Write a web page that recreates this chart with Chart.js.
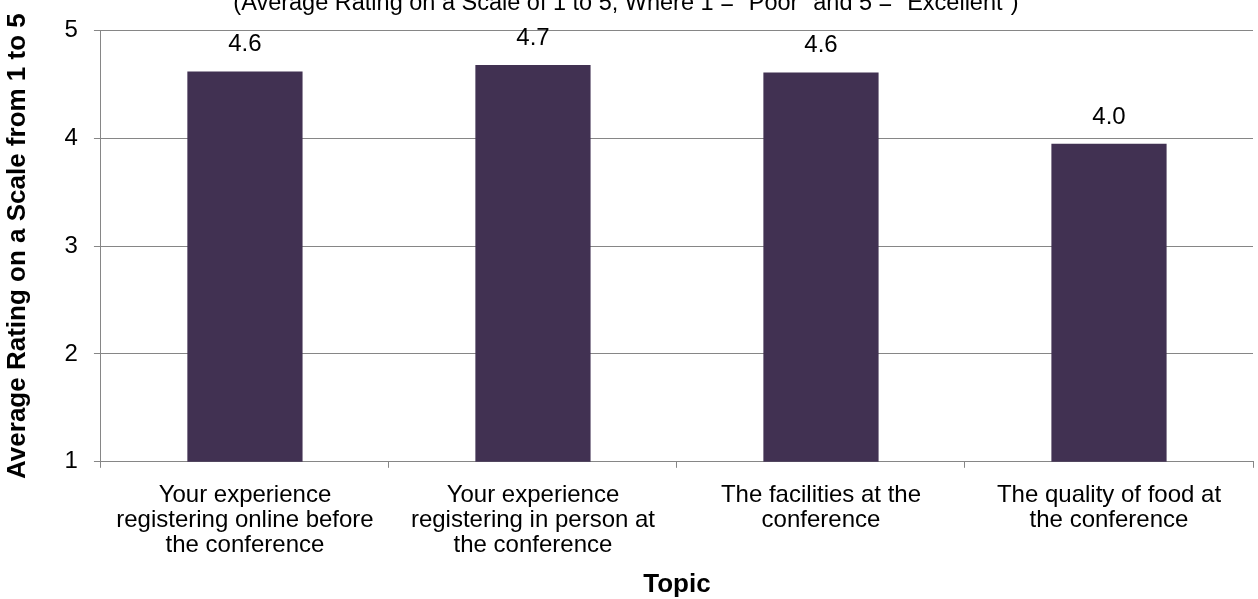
<!DOCTYPE html>
<html>
<head>
<meta charset="utf-8">
<script src="https://cdn.jsdelivr.net/npm/chart.js@4"></script>
<style>
  html, body { margin: 0; padding: 0; background: #fff; }
  #wrap { width: 1258px; height: 599px; }
</style>
</head>
<body>
<div id="wrap"><canvas id="ratingChart"></canvas></div>
<script>
// Chart data
const subtitleText = '(Average Rating on a Scale of 1 to 5, Where 1 = "Poor" and 5 = "Excellent")';
const topicLabels = [
    ['Your experience', 'registering online before', 'the conference'],
    ['Your experience', 'registering in person at', 'the conference'],
    ['The facilities at the', 'conference'],
    ['The quality of food at', 'the conference']
];
const avgRatings = [4.62, 4.68, 4.61, 3.95];
const yTicks = [1, 2, 3, 4, 5];

const FONT = "'Liberation Sans', Arial, sans-serif";
const GRID = '#868686';

// subtitle sits at the very top, half cut off like the original
const subtitlePlugin = {
    id: 'subtitleTop',
    afterDraw(chart) {
        const ctx = chart.ctx;
        ctx.save();
        ctx.font = '23.5px ' + FONT;
        ctx.fillStyle = '#000';
        ctx.textAlign = 'center';
        ctx.textBaseline = 'alphabetic';
        ctx.fillText(subtitleText, 626, 10);
        ctx.restore();
    }
};

// value labels above each bar
const valueLabels = {
    id: 'valueLabels',
    afterDatasetsDraw(chart) {
        const ctx = chart.ctx;
        const meta = chart.getDatasetMeta(0);
        ctx.save();
        ctx.font = '24px ' + FONT;
        ctx.fillStyle = '#000';
        ctx.textAlign = 'center';
        ctx.textBaseline = 'alphabetic';
        meta.data.forEach((bar, i) => {
            ctx.fillText(avgRatings[i].toFixed(1), bar.x, bar.y - 20);
        });
        ctx.restore();
    }
};

new Chart(document.getElementById('ratingChart').getContext('2d'), {
    type: 'bar',
    data: {
        labels: topicLabels,
        datasets: [{
            data: avgRatings,
            backgroundColor: '#413152',
            borderWidth: 0,
            categoryPercentage: 0.8,
            barPercentage: 0.5
        }]
    },
    options: {
        responsive: true,
        maintainAspectRatio: false,
        animation: false,
        layout: { padding: { top: 21, right: 5, left: 4, bottom: 0 } },
        scales: {
            x: {
                grid: {
                    offset: true,
                    drawOnChartArea: false,
                    color: GRID,
                    tickLength: 6
                },
                border: { color: GRID, width: 1 },
                ticks: {
                    color: '#000',
                    font: { family: FONT, size: 24, lineHeight: 1.05 },
                    maxRotation: 0,
                    autoSkip: false,
                    padding: 15
                },
                title: {
                    display: true,
                    text: 'Topic',
                    color: '#000',
                    font: { family: FONT, size: 26, weight: 'bold', lineHeight: 1.1 },
                    padding: { top: -3, bottom: 0 }
                }
            },
            y: {
                min: 1,
                max: 5,
                afterBuildTicks: (axis) => { axis.ticks = yTicks.map(v => ({ value: v })); },
                grid: { color: GRID, tickLength: 7 },
                border: { color: GRID, width: 1 },
                ticks: {
                    color: '#000',
                    font: { family: FONT, size: 24 },
                    padding: 16
                },
                title: {
                    display: true,
                    text: 'Average Rating on a Scale from 1 to 5',
                    color: '#000',
                    font: { family: FONT, size: 26, weight: 'bold', lineHeight: 1.1 },
                    padding: { top: 0, bottom: 16 }
                }
            }
        },
        plugins: {
            legend: { display: false },
            tooltip: { enabled: false }
        }
    },
    plugins: [subtitlePlugin, valueLabels]
});
</script>
</body>
</html>
